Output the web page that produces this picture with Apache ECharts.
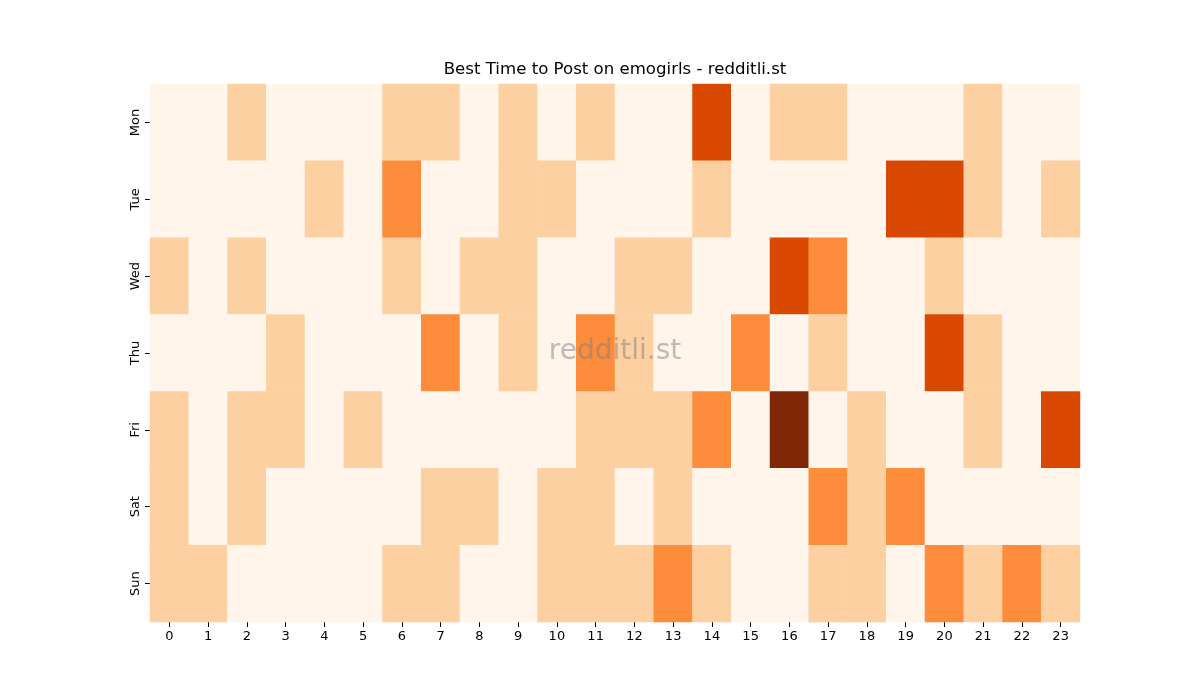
<!DOCTYPE html>
<html>
<head>
<meta charset="utf-8">
<script src="https://cdn.jsdelivr.net/npm/echarts@6/dist/echarts.min.js"></script>
<style>
  html, body { margin: 0; padding: 0; background: #fff; }
  #main { width: 1200px; height: 700px; }
</style>
</head>
<body>
<div id="main"></div>
<script>
// hours on x, days on y
const hours = ['0','1','2','3','4','5','6','7','8','9','10','11','12','13','14','15','16','17','18','19','20','21','22','23'];
const days = ['Mon', 'Tue', 'Wed', 'Thu', 'Fri', 'Sat', 'Sun'];

// values per day, one per hour
const mon = [0,0,1,0,0,0,1,1,0,1,0,1,0,0,3,0,1,1,0,0,0,1,0,0];
const tue = [0,0,0,0,1,0,2,0,0,1,1,0,0,0,1,0,0,0,0,3,3,1,0,1];
const wed = [1,0,1,0,0,0,1,0,1,1,0,0,1,1,0,0,3,2,0,0,1,0,0,0];
const thu = [0,0,0,1,0,0,0,2,0,1,0,2,1,0,0,2,0,1,0,0,3,1,0,0];
const fri = [1,0,1,1,0,1,0,0,0,0,0,1,1,1,2,0,4,0,1,0,0,1,0,3];
const sat = [1,0,1,0,0,0,0,1,1,0,1,1,0,1,0,0,0,2,1,2,0,0,0,0];
const sun = [1,1,0,0,0,0,1,1,0,0,1,1,1,2,1,0,0,1,1,0,2,1,2,1];

const rows = [mon, tue, wed, thu, fri, sat, sun];
const cells = [];
rows.forEach((row, d) => {
  row.forEach((v, h) => cells.push([h, d, v]));
});

const chart = echarts.init(document.getElementById('main'));
const font = 'DejaVu Sans';

chart.setOption({
  backgroundColor: '#fff',
  animation: false,
  // title and watermark are centred on the plot, not the canvas
  graphic: [{
    type: 'text',
    x: 615,
    y: 70,
    z: 100,
    style: {
      text: 'Best Time to Post on emogirls - redditli.st',
      font: '16.6px "DejaVu Sans"', fill: '#000',
      textAlign: 'center', textVerticalAlign: 'middle'
    }
  }, {
    type: 'text',
    x: 615,
    y: 352,
    z: 100,
    style: {
      text: 'redditli.st',
      font: '28px "DejaVu Sans"', fill: 'rgba(128,128,128,0.5)',
      textAlign: 'center', textVerticalAlign: 'middle'
    }
  }],
  grid: { left: 150, right: 120, top: 84, bottom: 78 },
  xAxis: {
    type: 'category',
    data: hours,
    axisLine: { show: false },
    axisTick: { show: true, alignWithLabel: true, length: 5, lineStyle: { color: '#000' } },
    axisLabel: { color: '#000', fontFamily: font, fontSize: 13, margin: 8 },
    splitLine: { show: false }
  },
  yAxis: {
    type: 'category',
    data: days,
    inverse: true,
    axisLine: { show: false },
    axisTick: { show: true, alignWithLabel: true, length: 5, lineStyle: { color: '#000' } },
    axisLabel: { color: '#000', fontFamily: font, fontSize: 13, rotate: 90, margin: 8 },
    splitLine: { show: false }
  },
  visualMap: {
    show: false,
    min: 0,
    max: 4,
    dimension: 2,
    inRange: { color: ['#fff5eb', '#fdd0a2', '#fd8d3c', '#d94801', '#7f2704'] }
  },
  series: [{
    type: 'heatmap',
    data: cells,
    itemStyle: { borderWidth: 0 },
    emphasis: { disabled: true }
  }]
});
</script>
</body>
</html>
